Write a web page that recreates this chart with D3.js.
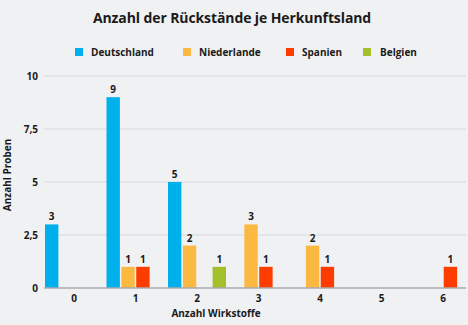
<!DOCTYPE html>
<html><head><meta charset="utf-8">
<script src="https://cdn.jsdelivr.net/npm/d3@7"></script>
<style>
html,body{margin:0;padding:0;background:#f0f1f3;}
svg{display:block;font-family:"Open Sans",sans-serif;}
</style></head>
<body>
<svg id="c" width="468" height="325"></svg>
<script>
const categories = ["0","1","2","3","4","5","6"];
const seriesNames = ["Deutschland","Niederlande","Spanien","Belgien"];
const seriesColors = ["#00b0ec","#fcb942","#ff3c00","#a1c02c"];
const deutschland = [3,9,5,0,0,0,0];
const niederlande = [0,1,2,3,2,0,0];
const spanien     = [0,1,0,1,1,0,1];
const belgien     = [0,0,1,0,0,0,0];
const yTicks = [0,2.5,5,7.5,10];
const yTickLabels = ["0","2,5","5","7,5","10"];
const title = "Anzahl der Rückstände je Herkunftsland";
const xTitle = "Anzahl Wirkstoffe";
const yTitle = "Anzahl Proben";

const values = [deutschland, niederlande, spanien, belgien];
const svg = d3.select("#c");
const dark = "#1a1a1a";
const fs = 10;

const x0 = d3.scaleBand().domain(categories).range([45, 472.4]).paddingInner(0.05).paddingOuter(0);
const x1 = d3.scaleBand().domain(seriesNames).range([0, 58]).paddingInner(0.1);
const y = d3.scaleLinear().domain([0,10]).range([288, 76]);

// gridlines
svg.append("g").selectAll("line").data(yTicks.filter(t=>t>0)).join("line")
  .attr("x1",44).attr("x2",466).attr("y1",d=>y(d)).attr("y2",d=>y(d))
  .attr("stroke","#d9dadc").attr("stroke-width",1.2);

// y tick labels
svg.append("g").selectAll("text").data(yTicks).join("text")
  .attr("x",38).attr("y",d=>y(d)).attr("dy","0.35em").attr("text-anchor","end")
  .attr("font-size",fs).attr("font-weight",700).attr("fill",dark)
  .text((d,i)=>yTickLabels[i]);

// bars
const groups = svg.append("g").selectAll("g").data(categories).join("g")
  .attr("transform",d=>`translate(${x0(d)},0)`);
groups.each(function(cat, ci){
  const g = d3.select(this);
  const data = seriesNames.map((s,si)=>({s, si, v: values[si][ci]})).filter(d=>d.v>0);
  g.selectAll("rect").data(data).join("rect")
    .attr("x",d=>x1(d.s)).attr("width",x1.bandwidth())
    .attr("y",d=>y(d.v)).attr("height",d=>y(0)-y(d.v))
    .attr("fill",d=>seriesColors[d.si]);
  g.selectAll("text").data(data).join("text")
    .attr("x",d=>x1(d.s)+x1.bandwidth()/2).attr("y",d=>y(d.v)-4)
    .attr("text-anchor","middle").attr("font-size",fs).attr("font-weight",700).attr("fill",dark)
    .text(d=>d.v);
});

// baseline
svg.append("line").attr("x1",44).attr("x2",466).attr("y1",y(0)).attr("y2",y(0))
  .attr("stroke","#a9aaad").attr("stroke-width",1.5);

// x tick labels
svg.append("g").selectAll("text").data(categories).join("text")
  .attr("x",d=>x0(d)+x0.bandwidth()/2).attr("y",302)
  .attr("text-anchor","middle").attr("font-size",fs).attr("font-weight",700).attr("fill",dark)
  .text(d=>d);

// axis titles
svg.append("text").attr("x",216).attr("y",317).attr("text-anchor","middle")
  .attr("font-size",fs).attr("font-weight",700).attr("fill",dark).text(xTitle);
svg.append("text").attr("transform","translate(11,175) rotate(-90)").attr("text-anchor","middle")
  .attr("font-size",fs).attr("font-weight",700).attr("fill",dark).text(yTitle);

// title
svg.append("text").attr("x",232).attr("y",23).attr("text-anchor","middle")
  .attr("font-size",14).attr("font-weight",700).attr("letter-spacing",-0.1).attr("fill",dark).text(title);

// legend
const legX = [75,183,286,363];
const leg = svg.append("g").selectAll("g").data(seriesNames).join("g")
  .attr("transform",(d,i)=>`translate(${legX[i]},52)`);
leg.append("rect").attr("x",0).attr("y",-4).attr("width",8).attr("height",8)
  .attr("fill",(d,i)=>seriesColors[i]);
leg.append("text").attr("x",(d,i)=>i===3?17:16).attr("y",0).attr("dy","0.35em")
  .attr("font-size",fs).attr("font-weight",700).attr("fill",dark).text(d=>d);
</script>
</body></html>
